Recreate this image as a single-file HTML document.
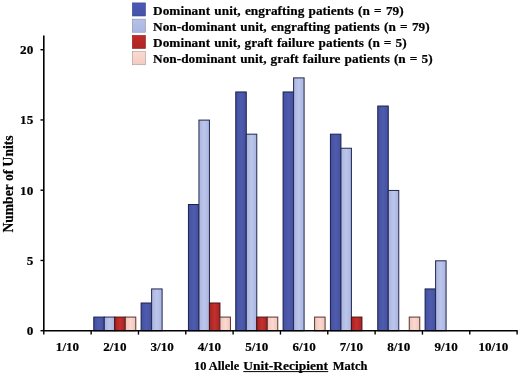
<!DOCTYPE html>
<html><head><meta charset="utf-8"><title>10 Allele Unit-Recipient Match</title>
<style>
html,body{margin:0;padding:0;background:#fff;}
body{width:520px;height:376px;overflow:hidden;}
svg{display:block;}
text{font-family:"Liberation Serif","Times New Roman",serif;font-weight:bold;fill:#000;stroke:#000;stroke-width:0.2px;}
</style></head><body>
<svg width="520" height="376" viewBox="0 0 520 376">
<defs>
<linearGradient id="g0" x1="0" y1="0" x2="1" y2="0"><stop offset="0" stop-color="#4450a0"/><stop offset="0.5" stop-color="#4f5cad"/><stop offset="1" stop-color="#4450a0"/></linearGradient>
<linearGradient id="g1" x1="0" y1="0" x2="1" y2="0"><stop offset="0" stop-color="#a9b4e0"/><stop offset="0.5" stop-color="#bcc6ea"/><stop offset="1" stop-color="#a9b4e0"/></linearGradient>
<linearGradient id="g2" x1="0" y1="0" x2="1" y2="0"><stop offset="0" stop-color="#a82222"/><stop offset="0.5" stop-color="#c43030"/><stop offset="1" stop-color="#a82222"/></linearGradient>
<linearGradient id="g3" x1="0" y1="0" x2="1" y2="0"><stop offset="0" stop-color="#f3c4ba"/><stop offset="0.5" stop-color="#fad8d0"/><stop offset="1" stop-color="#f3c4ba"/></linearGradient>
<linearGradient id="l0" x1="0" y1="0" x2="0" y2="1"><stop offset="0" stop-color="#4a5ab5"/><stop offset="1" stop-color="#4552a8"/></linearGradient>
<linearGradient id="l1" x1="0" y1="0" x2="0" y2="1"><stop offset="0" stop-color="#b7c2ea"/><stop offset="1" stop-color="#aab5e2"/></linearGradient>
<linearGradient id="l2" x1="0" y1="0" x2="0" y2="1"><stop offset="0" stop-color="#c02a2a"/><stop offset="1" stop-color="#b02424"/></linearGradient>
<linearGradient id="l3" x1="0" y1="0" x2="0" y2="1"><stop offset="0" stop-color="#fadad2"/><stop offset="1" stop-color="#f5cbc2"/></linearGradient>
</defs>
<rect width="520" height="376" fill="#fff"/>

<rect x="132.3" y="2.90" width="13.2" height="13.1" fill="url(#l0)" stroke="#3a4694" stroke-width="0.6"/>
<text x="153" y="14.60" font-size="13.3" letter-spacing="0.03" word-spacing="0.85" stroke-width="0.3">Dominant unit, engrafting patients (n = 79)</text>
<rect x="132.3" y="19.15" width="13.2" height="13.1" fill="url(#l1)" stroke="#8a8fa8" stroke-width="0.6"/>
<text x="153" y="30.70" font-size="13.3" letter-spacing="0.03" word-spacing="0.85" stroke-width="0.3">Non-dominant unit, engrafting patients (n = 79)</text>
<rect x="132.3" y="35.40" width="13.2" height="13.1" fill="url(#l2)" stroke="#8a2020" stroke-width="0.6"/>
<text x="153" y="46.80" font-size="13.3" letter-spacing="0.03" word-spacing="0.7" stroke-width="0.3">Dominant unit, graft failure patients (n = 5)</text>
<rect x="132.3" y="51.65" width="13.2" height="13.1" fill="url(#l3)" stroke="#a89a98" stroke-width="0.6"/>
<text x="153" y="62.90" font-size="13.3" letter-spacing="0.03" word-spacing="0.7" stroke-width="0.3">Non-dominant unit, graft failure patients (n = 5)</text>
<rect x="93.78" y="317.08" width="10.5" height="13.62" fill="url(#g0)" stroke="#1a1f4c" stroke-width="1"/>
<rect x="104.28" y="317.08" width="10.5" height="13.62" fill="url(#g1)" stroke="#22274e" stroke-width="1"/>
<rect x="114.78" y="317.08" width="10.5" height="13.62" fill="url(#g2)" stroke="#4a1010" stroke-width="1"/>
<rect x="125.28" y="317.08" width="10.5" height="13.62" fill="url(#g3)" stroke="#553530" stroke-width="1"/>
<rect x="141.11" y="303.01" width="10.5" height="27.69" fill="url(#g0)" stroke="#1a1f4c" stroke-width="1"/>
<rect x="151.61" y="288.94" width="10.5" height="41.76" fill="url(#g1)" stroke="#22274e" stroke-width="1"/>
<rect x="188.44" y="204.52" width="10.5" height="126.18" fill="url(#g0)" stroke="#1a1f4c" stroke-width="1"/>
<rect x="198.94" y="120.10" width="10.5" height="210.60" fill="url(#g1)" stroke="#22274e" stroke-width="1"/>
<rect x="209.44" y="303.01" width="10.5" height="27.69" fill="url(#g2)" stroke="#4a1010" stroke-width="1"/>
<rect x="219.94" y="317.08" width="10.5" height="13.62" fill="url(#g3)" stroke="#553530" stroke-width="1"/>
<rect x="235.77" y="91.96" width="10.5" height="238.74" fill="url(#g0)" stroke="#1a1f4c" stroke-width="1"/>
<rect x="246.27" y="134.17" width="10.5" height="196.53" fill="url(#g1)" stroke="#22274e" stroke-width="1"/>
<rect x="256.77" y="317.08" width="10.5" height="13.62" fill="url(#g2)" stroke="#4a1010" stroke-width="1"/>
<rect x="267.27" y="317.08" width="10.5" height="13.62" fill="url(#g3)" stroke="#553530" stroke-width="1"/>
<rect x="283.10" y="91.96" width="10.5" height="238.74" fill="url(#g0)" stroke="#1a1f4c" stroke-width="1"/>
<rect x="293.60" y="77.89" width="10.5" height="252.81" fill="url(#g1)" stroke="#22274e" stroke-width="1"/>
<rect x="314.60" y="317.08" width="10.5" height="13.62" fill="url(#g3)" stroke="#553530" stroke-width="1"/>
<rect x="330.43" y="134.17" width="10.5" height="196.53" fill="url(#g0)" stroke="#1a1f4c" stroke-width="1"/>
<rect x="340.93" y="148.24" width="10.5" height="182.46" fill="url(#g1)" stroke="#22274e" stroke-width="1"/>
<rect x="351.43" y="317.08" width="10.5" height="13.62" fill="url(#g2)" stroke="#4a1010" stroke-width="1"/>
<rect x="377.76" y="106.03" width="10.5" height="224.67" fill="url(#g0)" stroke="#1a1f4c" stroke-width="1"/>
<rect x="388.26" y="190.45" width="10.5" height="140.25" fill="url(#g1)" stroke="#22274e" stroke-width="1"/>
<rect x="409.26" y="317.08" width="10.5" height="13.62" fill="url(#g3)" stroke="#553530" stroke-width="1"/>
<rect x="425.09" y="288.94" width="10.5" height="41.76" fill="url(#g0)" stroke="#1a1f4c" stroke-width="1"/>
<rect x="435.59" y="260.80" width="10.5" height="69.90" fill="url(#g1)" stroke="#22274e" stroke-width="1"/>
<path d="M43.8 35.5V330.7H517.7" fill="none" stroke="#000" stroke-width="1.6"/>
<path d="M40.5 330.70H43.8" stroke="#000" stroke-width="1.4"/>
<text x="33.3" y="335.10" font-size="13.2" text-anchor="end">0</text>
<path d="M40.5 260.45H43.8" stroke="#000" stroke-width="1.4"/>
<text x="33.3" y="264.85" font-size="13.2" text-anchor="end">5</text>
<path d="M40.5 190.20H43.8" stroke="#000" stroke-width="1.4"/>
<text x="33.3" y="194.60" font-size="13.2" text-anchor="end">10</text>
<path d="M40.5 119.95H43.8" stroke="#000" stroke-width="1.4"/>
<text x="33.3" y="124.35" font-size="13.2" text-anchor="end">15</text>
<path d="M40.5 49.70H43.8" stroke="#000" stroke-width="1.4"/>
<text x="33.3" y="54.10" font-size="13.2" text-anchor="end">20</text>
<path d="M43.80 330.7V334.6" stroke="#000" stroke-width="1.4"/>
<path d="M91.13 330.7V334.6" stroke="#000" stroke-width="1.4"/>
<path d="M138.46 330.7V334.6" stroke="#000" stroke-width="1.4"/>
<path d="M185.79 330.7V334.6" stroke="#000" stroke-width="1.4"/>
<path d="M233.12 330.7V334.6" stroke="#000" stroke-width="1.4"/>
<path d="M280.45 330.7V334.6" stroke="#000" stroke-width="1.4"/>
<path d="M327.78 330.7V334.6" stroke="#000" stroke-width="1.4"/>
<path d="M375.11 330.7V334.6" stroke="#000" stroke-width="1.4"/>
<path d="M422.44 330.7V334.6" stroke="#000" stroke-width="1.4"/>
<path d="M469.77 330.7V334.6" stroke="#000" stroke-width="1.4"/>
<path d="M517.10 330.7V334.6" stroke="#000" stroke-width="1.4"/>
<text x="67.47" y="350.9" font-size="13.1" text-anchor="middle">1/10</text>
<text x="114.80" y="350.9" font-size="13.1" text-anchor="middle">2/10</text>
<text x="162.12" y="350.9" font-size="13.1" text-anchor="middle">3/10</text>
<text x="209.45" y="350.9" font-size="13.1" text-anchor="middle">4/10</text>
<text x="256.78" y="350.9" font-size="13.1" text-anchor="middle">5/10</text>
<text x="304.12" y="350.9" font-size="13.1" text-anchor="middle">6/10</text>
<text x="351.44" y="350.9" font-size="13.1" text-anchor="middle">7/10</text>
<text x="398.77" y="350.9" font-size="13.1" text-anchor="middle">8/10</text>
<text x="446.11" y="350.9" font-size="13.1" text-anchor="middle">9/10</text>
<text x="493.44" y="350.9" font-size="13.1" text-anchor="middle">10/10</text>
<text x="194" y="370" font-size="13.3" textLength="45.2" lengthAdjust="spacingAndGlyphs">10 Allele</text>
<text x="243.3" y="370" font-size="13.3" textLength="84.8" lengthAdjust="spacingAndGlyphs">Unit-Recipient</text>
<path d="M243.3 371.6H328.2" stroke="#000" stroke-width="1"/>
<text x="332.8" y="370" font-size="13.3" textLength="34.6" lengthAdjust="spacingAndGlyphs">Match</text>
<text transform="translate(12.7,184) rotate(-90)" font-size="13.6" text-anchor="middle">Number of Units</text>
</svg></body></html>
